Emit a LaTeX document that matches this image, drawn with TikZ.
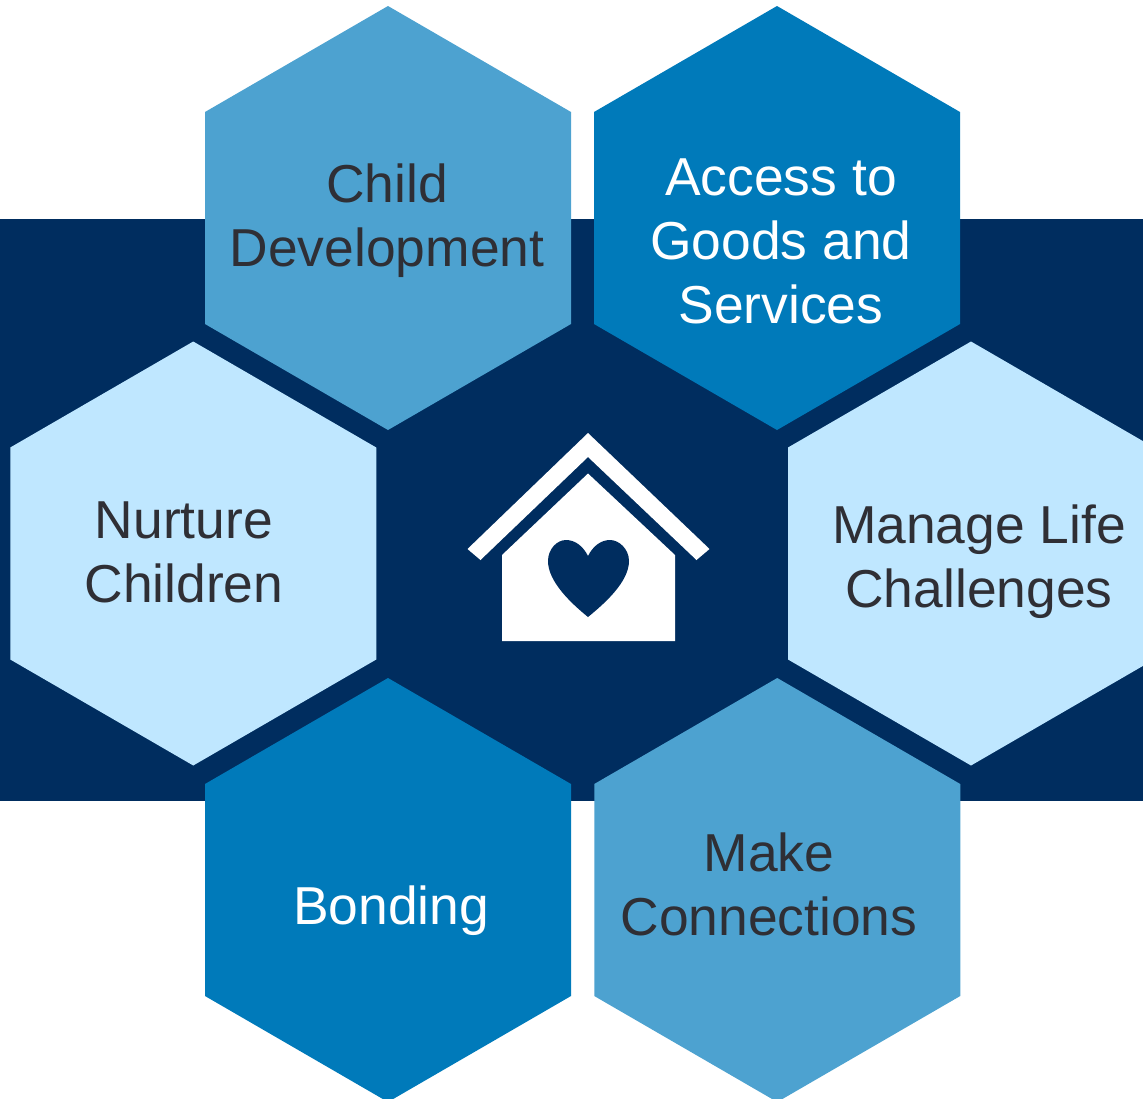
\documentclass[tikz,border=0pt]{standalone}
\usepackage{fontspec}
\setmainfont{Liberation Sans}
\definecolor{navy}{HTML}{002D5F}
\definecolor{midblue}{HTML}{4DA2D0}
\definecolor{deepblue}{HTML}{007ABA}
\definecolor{pale}{HTML}{BFE7FF}
\definecolor{ink}{HTML}{2F2F35}
\tikzset{x=1pt,y=-1pt,
 lab/.style={align=center,font=\fontsize{53.4}{64}\selectfont,inner sep=0pt}}
\newcommand{\hexshape}[3]{\fill[#3] (#1,#2-212) -- (#1+183,#2-106) -- (#1+183,#2+106) -- (#1,#2+212) -- (#1-183,#2+106) -- (#1-183,#2-106) -- cycle;}
\begin{document}
\begin{tikzpicture}
\useasboundingbox (0,0) rectangle (1143,1098);
\begin{scope}
\clip (0,0) rectangle (1143,1098);
\fill[navy] (0,219) rectangle (1143,801);
\hexshape{388}{218}{midblue}
\hexshape{777}{218}{deepblue}
\hexshape{193.25}{553.5}{pale}
\hexshape{971}{553.5}{pale}
\hexshape{388}{890}{deepblue}
\hexshape{777.25}{890}{midblue}
\fill[white] (588,433) -- (709.5,549) -- (696.5,560) -- (588,457) -- (480.5,560) -- (467.5,549) -- cycle;
\fill[white] (588,473.5) -- (675,555) -- (675,641) -- (502,641) -- (502,555) -- cycle;
\fill[navy] (588,617) .. controls (572,604) and (548,582) .. (548,561) .. controls (548,549) and (557,540) .. (566,540) .. controls (575,540) and (583,546) .. (588,556) .. controls (593,546) and (601,540) .. (610,540) .. controls (619,540) and (629,549) .. (629,561) .. controls (629,582) and (604,604) .. (588,617) -- cycle;
\end{scope}
\node[lab,text=ink] (a) at (387,221) {Child\\Development};
\node[lab,text=white] (b) at (781,241) {Access to\\Goods and\\Services};
\node[lab,text=ink] (c) at (184,552) {Nurture\\Children};
\node[lab,text=ink] (d) at (979,562) {Manage Life\\Challenges};
\node[lab,text=white] (e) at (391,911) {Bonding};
\node[lab,text=ink] (f) at (769,884) {Make\\Connections};
\end{tikzpicture}
\end{document}
